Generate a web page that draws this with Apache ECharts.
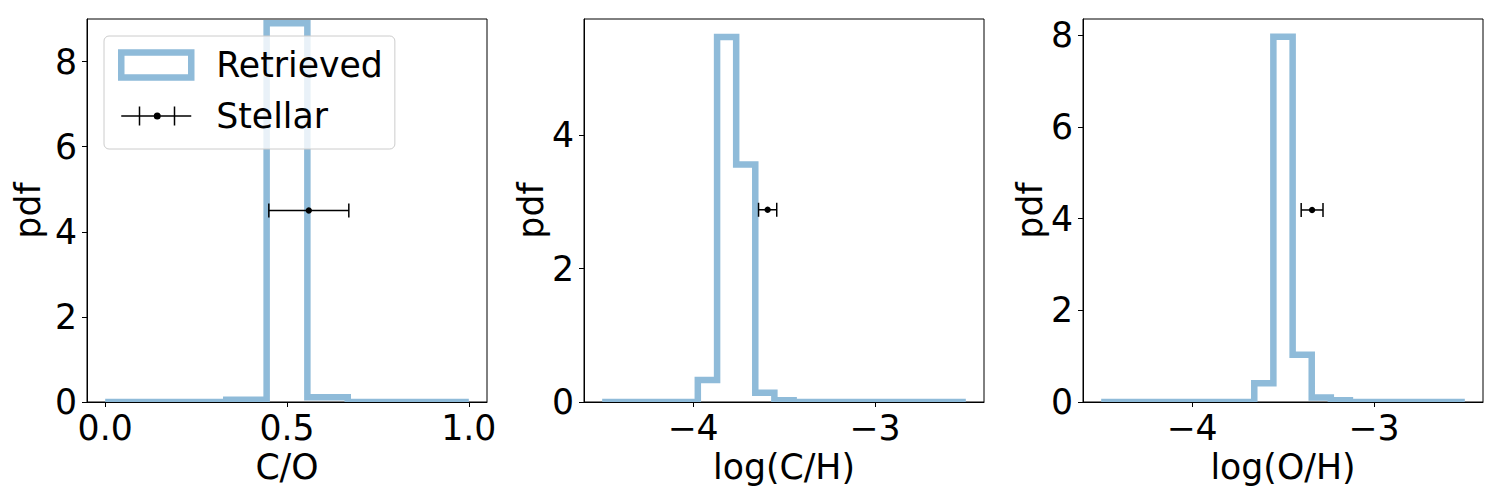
<!DOCTYPE html>
<html><head><meta charset="utf-8">
<script src="https://cdn.jsdelivr.net/npm/echarts@6/dist/echarts.min.js"></script>
<style>html,body{margin:0;padding:0;background:#fff}#c{width:1500px;height:500px}</style>
</head><body><div id="c"></div>
<script>
// ---- data ----
const coEdges = [0.000, 0.111, 0.222, 0.333, 0.444, 0.556, 0.667, 0.778, 0.889, 1.000];
const coPdf = [0, 0, 0, 0.055, 8.9, 0.11, 0, 0, 0];
const chEdges = [-4.500, -4.395, -4.289, -4.184, -4.079, -3.974, -3.868, -3.763, -3.658, -3.553,
                 -3.447, -3.342, -3.237, -3.132, -3.026, -2.921, -2.816, -2.711, -2.605, -2.500];
const chPdf = [0, 0, 0, 0, 0, 0.33, 5.47, 3.56, 0.14, 0.025, 0, 0, 0, 0, 0, 0, 0, 0, 0];
const ohEdges = [-4.500, -4.395, -4.289, -4.184, -4.079, -3.974, -3.868, -3.763, -3.658, -3.553,
                 -3.447, -3.342, -3.237, -3.132, -3.026, -2.921, -2.816, -2.711, -2.605, -2.500];
const ohPdf = [0, 0, 0, 0, 0, 0, 0, 0, 0.41, 7.97, 1.03, 0.10, 0.04, 0, 0, 0, 0, 0, 0];
// stellar values: [x, xerr, y]
const coStellar = [0.56, 0.11, 4.5];
const chStellar = [-3.59, 0.05, 2.88];
const ohStellar = [-3.34, 0.06, 4.19];
// axes
const coXTicks = [0, 0.5, 1.0];
const coXTickLabels = ['0.0', '0.5', '1.0'];
const logXTicks = [-4, -3];
const logXTickLabels = ['\u22124', '\u22123'];
const coYTicks = [0, 2, 4, 6, 8];
const chYTicks = [0, 2, 4];
const ohYTicks = [0, 2, 4, 6, 8];
const xNames = ['C/O', 'log(C/H)', 'log(O/H)'];
const yName = 'pdf';
const legendNames = ['Retrieved', 'Stellar'];

// ---- chart ----
const FONT = 'DejaVu Sans';
const FS = 34.7;
const BLUE = '#8fbbd9';
const chart = echarts.init(document.getElementById('c'), null, {renderer: 'svg'});

const panels = [
  {left: 87, edges: coEdges, pdf: coPdf, st: coStellar, xmin: -0.05, xmax: 1.05, ymax: 9.0,
   xt: coXTicks, xl: coXTickLabels, yt: coYTicks, nameGapY: 42},
  {left: 584, edges: chEdges, pdf: chPdf, st: chStellar, xmin: -4.6, xmax: -2.4, ymax: 5.738,
   xt: logXTicks, xl: logXTickLabels, yt: chYTicks, nameGapY: 36},
  {left: 1083, edges: ohEdges, pdf: ohPdf, st: ohStellar, xmin: -4.6, xmax: -2.4, ymax: 8.357,
   xt: logXTicks, xl: logXTickLabels, yt: ohYTicks, nameGapY: 36}
];

function nearestLabel(v, ticks, labels) {
  let bi = 0, bd = Infinity;
  ticks.forEach((t, i) => { const d = Math.abs(t - v); if (d < bd) { bd = d; bi = i; } });
  return labels[bi];
}

function stepSeries(gi, edges, vals) {
  const raw = [[edges[0], 0]];
  for (let i = 0; i < vals.length; i++) {
    raw.push([edges[i], vals[i]]);
    raw.push([edges[i + 1], vals[i]]);
  }
  raw.push([edges[edges.length - 1], 0]);
  const pts = raw.filter((p, i) => i === 0 || p[0] !== raw[i - 1][0] || p[1] !== raw[i - 1][1]);
  return {
    type: 'custom', name: legendNames[0], xAxisIndex: gi, yAxisIndex: gi, clip: true, z: 2,
    data: pts, encode: {x: 0, y: 1}, itemStyle: {color: BLUE},
    renderItem: (params, api) => {
      if (params.dataIndex !== 0) return null;
      return {
        type: 'polyline',
        shape: {points: pts.map(q => api.coord(q))},
        style: {fill: null, stroke: BLUE, lineWidth: 6.5, lineJoin: 'miter', lineCap: 'butt'}
      };
    }
  };
}

function errSeries(gi, s) {
  return {
    type: 'custom', name: legendNames[1], xAxisIndex: gi, yAxisIndex: gi, z: 3,
    data: [[s[0], s[1], s[2]]], encode: {x: 0, y: 2}, itemStyle: {color: '#000'},
    renderItem: (params, api) => {
      const x = api.value(0), e = api.value(1), y = api.value(2);
      const L = api.coord([x - e, y]), R = api.coord([x + e, y]), C = api.coord([x, y]);
      const cap = 7, st = {stroke: '#000', lineWidth: 1.5};
      return {type: 'group', children: [
        {type: 'line', shape: {x1: L[0], y1: L[1], x2: R[0], y2: R[1]}, style: st},
        {type: 'line', shape: {x1: L[0], y1: L[1] - cap, x2: L[0], y2: L[1] + cap}, style: st},
        {type: 'line', shape: {x1: R[0], y1: R[1] - cap, x2: R[0], y2: R[1] + cap}, style: st},
        {type: 'circle', shape: {cx: C[0], cy: C[1], r: 3.2}, style: {fill: '#000'}}
      ]};
    }
  };
}

const grid = [], xAxis = [], yAxis = [], series = [];
panels.forEach((p, i) => {
  grid.push({left: p.left, top: 19, width: 400, height: 383, show: true,
             borderColor: '#000', borderWidth: 1, backgroundColor: 'transparent'});
  xAxis.push({
    type: 'value', gridIndex: i, min: p.xmin, max: p.xmax,
    name: xNames[i], nameLocation: 'middle', nameGap: 46,
    nameTextStyle: {fontFamily: FONT, fontSize: FS, color: '#000'},
    axisLine: {show: true, onZero: false, lineStyle: {color: '#000', width: 1}},
    axisTick: {show: true, length: 5, lineStyle: {color: '#000', width: 1}, customValues: p.xt},
    axisLabel: {fontFamily: FONT, fontSize: FS, color: '#000', margin: 8, customValues: p.xt,
                formatter: v => nearestLabel(v, p.xt, p.xl)},
    splitLine: {show: false}
  });
  yAxis.push({
    type: 'value', gridIndex: i, min: 0, max: p.ymax,
    name: yName, nameLocation: 'middle', nameGap: p.nameGapY,
    nameTextStyle: {fontFamily: FONT, fontSize: FS, color: '#000'},
    axisLine: {show: true, onZero: false, lineStyle: {color: '#000', width: 1}},
    axisTick: {show: true, length: 5, lineStyle: {color: '#000', width: 1}, customValues: p.yt},
    axisLabel: {fontFamily: FONT, fontSize: FS, color: '#000', margin: 10, customValues: p.yt,
                formatter: v => String(Math.round(v))},
    splitLine: {show: false}
  });
  series.push(stepSeries(i, p.edges, p.pdf));
  series.push(errSeries(i, p.st));
});

chart.setOption({
  animation: false,
  backgroundColor: '#fff',
  grid, xAxis, yAxis, series,
  legend: {
    left: 104, top: 36, orient: 'vertical', selectedMode: false,
    data: [
      {name: legendNames[0], icon: 'rect',
       itemStyle: {color: 'rgba(255,255,255,0)', borderColor: BLUE, borderWidth: 6.5}},
      {name: legendNames[1],
       icon: 'path://M0,8.75H70V10.25H0Z M17.5,0H19V19H17.5Z M52.5,0H54V19H52.5Z M32.5,9.5A3.5,3.5,0,1,1,39.5,9.5A3.5,3.5,0,1,1,32.5,9.5Z',
       itemStyle: {color: '#000', borderWidth: 0}}
    ],
    itemWidth: 70, itemHeight: 25, itemGap: 15,
    textStyle: {fontFamily: FONT, fontSize: FS, lineHeight: 36, color: '#000', padding: [0, 0, 0, 20]},
    padding: [11, 12, 15, 14],
    backgroundColor: 'rgba(255,255,255,0.8)', borderColor: '#cccccc', borderWidth: 1, borderRadius: 5
  }
});
</script>
</body></html>
